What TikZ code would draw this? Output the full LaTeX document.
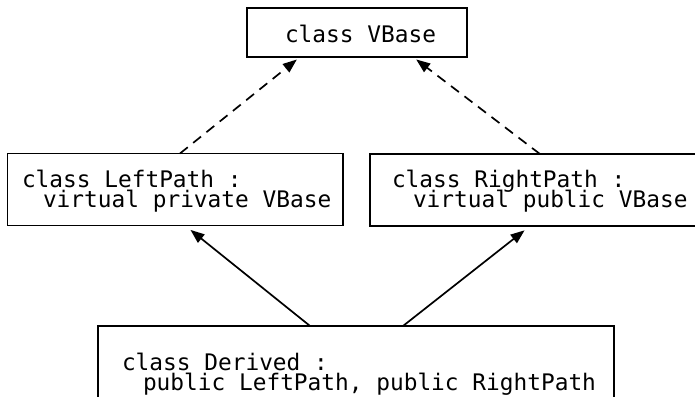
\documentclass[tikz,border=0pt]{standalone}
\usepackage{fontspec}
\setmonofont{DejaVu Sans Mono}
\usetikzlibrary{arrows.meta,calc}
\newcommand{\myTwoLines}[2]{\vtop{\baselineskip=20bp\lineskiplimit=-100pt\relax\hbox{#1}\hbox{\hspace*{21bp}#2}}}
\begin{document}
\begin{tikzpicture}[x=1bp,y=-1bp,
  box/.style={draw,line width=1.7bp,inner sep=0pt,outer sep=0pt,anchor=north west},
  code/.style={anchor=base west,inner sep=0pt,outer sep=0pt,font=\ttfamily\fontsize{22.8bp}{20bp}\selectfont},
  inh/.style={line width=1.7bp,-{Triangle[length=14bp,width=10.5bp]}},
  vinh/.style={inh,dash pattern=on 10bp off 7bp}]
\path[use as bounding box] (0,0) rectangle (695,396);
\clip (0,0) rectangle (695,396);
% boxes
\node[box,minimum width=220bp,minimum height=49bp] (vbase) at (246.7,8) {};
\node[box,minimum width=335.5bp,minimum height=72bp] (left) at (7.5,153.5) {};
\node[box,minimum width=330bp,minimum height=72bp] (right) at (370,154) {};
\node[box,minimum width=516bp,minimum height=80bp] (derived) at (98,326) {};
% texts
\node[code] (tvbase) at (285,42) {class VBase};
\node[code] (tleft) at (22,187) {\myTwoLines{class LeftPath :}{virtual private VBase}};
\node[code] (tright) at (392,187) {\myTwoLines{class RightPath :}{virtual public VBase}};
\node[code] (tder) at (122,370) {\myTwoLines{class Derived :}{public LeftPath, public RightPath}};
% connectors
\draw[vinh,shorten >=4bp] ($(left.north west)!0.514!(left.north east)$) -- ($(vbase.south west)!0.242!(vbase.south east)$);
\draw[vinh,shorten >=4bp] ($(right.north west)!0.515!(right.north east)$) -- ($(vbase.south west)!0.756!(vbase.south east)$);
\draw[inh,shorten >=7bp] ($(derived.north west)!0.411!(derived.north east)$) -- ($(left.south west)!0.529!(left.south east)$);
\draw[inh,shorten >=7bp] ($(derived.north west)!0.591!(derived.north east)$) -- ($(right.south west)!0.485!(right.south east)$);
\end{tikzpicture}
\end{document}
